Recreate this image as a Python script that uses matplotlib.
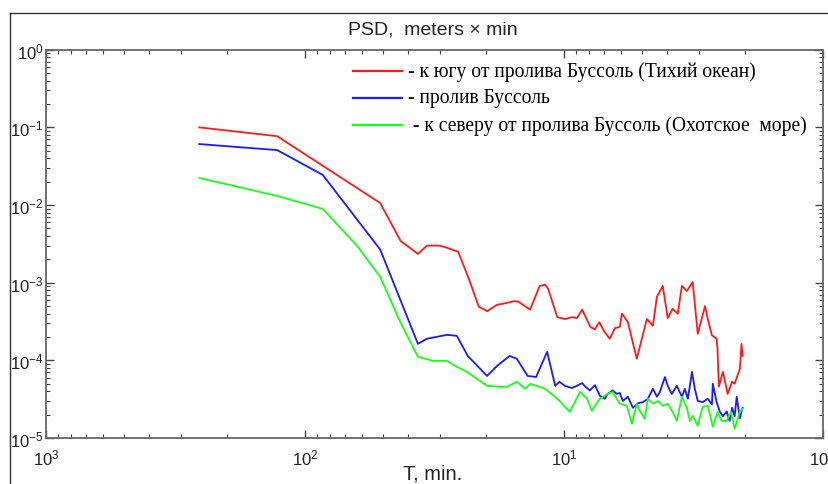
import matplotlib

matplotlib.use("Agg")
import matplotlib.pyplot as plt
from matplotlib.lines import Line2D

plt.rcParams["font.family"] = ["Liberation Sans", "DejaVu Sans"]
plt.rcParams["axes.unicode_minus"] = False

# period (min) and PSD (m^2*min)
south_T = [256, 128, 85.3, 51.2, 42.7, 36.6, 33.8, 30.1, 28.1, 25.6, 23.5, 21.3,
           19.8, 18.1, 16.6, 15.5, 15.0, 13.5, 12.4, 11.8, 11.5, 10.6, 9.9, 9.3,
           8.9, 8.5, 7.9, 7.6, 7.3, 6.95, 6.65, 6.35, 6.08, 5.97, 5.66, 5.23,
           4.78, 4.53, 4.37, 4.15, 3.97, 3.80, 3.63, 3.50, 3.35, 3.18, 3.04,
           2.85, 2.78, 2.68, 2.57, 2.55, 2.52, 2.43, 2.33, 2.24, 2.19, 2.09,
           2.06, 2.04]
south_P = [0.10, 0.077, 0.032, 0.0106, 0.00345, 0.00235, 0.0030, 0.0030,
           0.0028, 0.0025, 0.00122, 0.00049, 0.00043, 0.00052, 0.00055,
           0.00058, 0.00057, 0.00045, 0.00091, 0.00094, 0.00083, 0.00036,
           0.00034, 0.00036, 0.00035, 0.00045, 0.00027, 0.00025, 0.00031,
           0.00023, 0.00019, 0.00026, 0.00027, 0.00040, 0.00031, 0.000105,
           0.00034, 0.00028, 0.00066, 0.00091, 0.00035, 0.00046, 0.00040,
           0.00091, 0.00078, 0.00102, 0.00022, 0.00050, 0.00034, 0.00021,
           0.00019, 0.00014, 0.000046, 0.000071, 0.000037, 0.000053, 0.000050,
           0.000078, 0.000163, 0.000114]

strait_T = [256, 128, 85.3, 51.2, 36.6, 33.8, 28.3, 25.9, 23.5, 19.8, 18.1,
            16.2, 15.2, 13.8, 12.8, 11.6, 10.8, 10.4, 9.91, 9.31, 8.91, 8.50,
            8.27, 7.94, 7.58, 7.26, 6.95, 6.78, 6.48, 6.24, 6.08, 5.92, 5.66,
            5.41, 5.18, 4.95, 4.74, 4.53, 4.37, 4.26, 4.07, 3.97, 3.83, 3.66,
            3.50, 3.41, 3.32, 3.20, 3.12, 3.04, 2.91, 2.78, 2.68, 2.66, 2.57,
            2.50, 2.43, 2.35, 2.29, 2.24, 2.19, 2.15, 2.09, 2.06, 2.04]
strait_P = [0.061, 0.051, 0.0244, 0.00267, 0.000163, 0.00019, 0.000213,
            0.000207, 0.000114, 0.000063, 0.000085, 0.000114, 0.000105,
            0.000063, 0.000061, 0.000129, 0.000047, 0.000053, 0.000047,
            0.000044, 0.000047, 0.000051, 0.000046, 0.000041, 0.000048,
            0.000035, 0.000032, 0.000037, 0.000041, 0.000037, 0.000038,
            0.000030, 0.000034, 0.0000245, 0.000028, 0.000029, 0.000032,
            0.000043, 0.000034, 0.000039, 0.000061, 0.000047, 0.000037,
            0.000047, 0.000034, 0.000043, 0.000032, 0.000071, 0.000043,
            0.000030, 0.000029, 0.000032, 0.000027, 0.000050, 0.000029,
            0.000022, 0.000019, 0.000022, 0.0000166, 0.0000245, 0.000019,
            0.000034, 0.000018, 0.000022, 0.0000245]

north_T = [256, 128, 85.3, 63.0, 51.2, 43.0, 36.6, 32.0, 28.3, 25.9, 23.7,
           19.8, 17.7, 16.6, 15.2, 14.1, 13.5, 12.4, 11.8, 10.6, 9.48, 8.66,
           8.13, 7.80, 7.26, 6.78, 6.48, 6.08, 5.71, 5.46, 5.23, 5.09, 4.87,
           4.74, 4.53, 4.33, 4.15, 3.97, 3.80, 3.66, 3.50, 3.35, 3.26, 3.18,
           3.04, 2.91, 2.78, 2.66, 2.55, 2.46, 2.35, 2.26, 2.19, 2.09, 2.04]
north_P = [0.0223, 0.0131, 0.0089, 0.0030, 0.00119, 0.00032, 0.000111,
           0.0000985, 0.0000985, 0.0000825, 0.000071, 0.000047, 0.0000456,
           0.0000456, 0.000053, 0.000043, 0.0000498, 0.0000456, 0.000043,
           0.000032, 0.0000217, 0.0000393, 0.000032, 0.0000224, 0.000032,
           0.000037, 0.0000393, 0.0000276, 0.000026, 0.0000152, 0.0000276,
           0.0000224, 0.0000177, 0.000032, 0.0000276, 0.000030, 0.000026,
           0.0000276, 0.0000217, 0.0000166, 0.000034, 0.0000245, 0.0000166,
           0.0000193, 0.0000144, 0.0000252, 0.000026, 0.000014, 0.0000217,
           0.0000166, 0.0000166, 0.0000217, 0.0000131, 0.0000217, 0.0000238]

labels = ["- к югу от пролива Буссоль (Тихий океан)",
          "- пролив Буссоль",
          " - к северу от пролива Буссоль (Охотское  море)"]
colors = ["#ff1a1a", "#1a1aff", "#1aff1a"]

fig = plt.figure(figsize=(8.29, 4.85), dpi=100)
ax = fig.add_axes([0.0555, 0.0948, 0.937, 0.8006])

series = [(south_T, south_P), (strait_T, strait_P), (north_T, north_P)]
for (t, p), c in zip(series, colors):
    ax.plot(t, p, color=c, lw=1.3)

ax.set_xscale("log")
ax.set_yscale("log")
ax.set_xlim(1000, 1)
ax.set_ylim(1e-5, 1)

ax.tick_params(which="both", direction="in", top=True, right=True,
               labelsize=12, colors="#444444", labelcolor="#222222")
ax.tick_params(which="major", length=5.5, width=1)
ax.tick_params(which="minor", length=2.8, width=0.8)
ax.tick_params(axis="x", pad=7)
ax.tick_params(axis="y", pad=2)
for s in ax.spines.values():
    s.set_color("#666666")
    s.set_linewidth(1.3)

# hand-made legend
leg_y = [0.945, 0.876, 0.806]
for y, c, lab in zip(leg_y, colors, labels):
    ax.add_line(Line2D([0.395, 0.458], [y, y], color=c, lw=1.6,
                       transform=ax.transAxes))
    ax.text(0.466, y, lab, transform=ax.transAxes, va="center", ha="left",
            fontsize=14.1, family=["Liberation Serif", "DejaVu Serif"])

fig.text(433 / 829, 1 - 30 / 485, "PSD,  meters \u00d7 min", ha="center",
         va="center", fontsize=14, color="#222222")
fig.text(433 / 829, 1 - 474 / 485, "T, min.", ha="center", va="center",
         fontsize=14.5, color="#222222")

# outer frame (top and left edges visible)
fig.add_artist(Line2D([10 / 829, 1.0], [1 - 14 / 485, 1 - 14 / 485],
                      color="#333333", lw=1, transform=fig.transFigure))
fig.add_artist(Line2D([10 / 829, 10 / 829], [0.0, 1 - 14 / 485],
                      color="#333333", lw=1, transform=fig.transFigure))

fig.savefig("out.png", dpi=100)
